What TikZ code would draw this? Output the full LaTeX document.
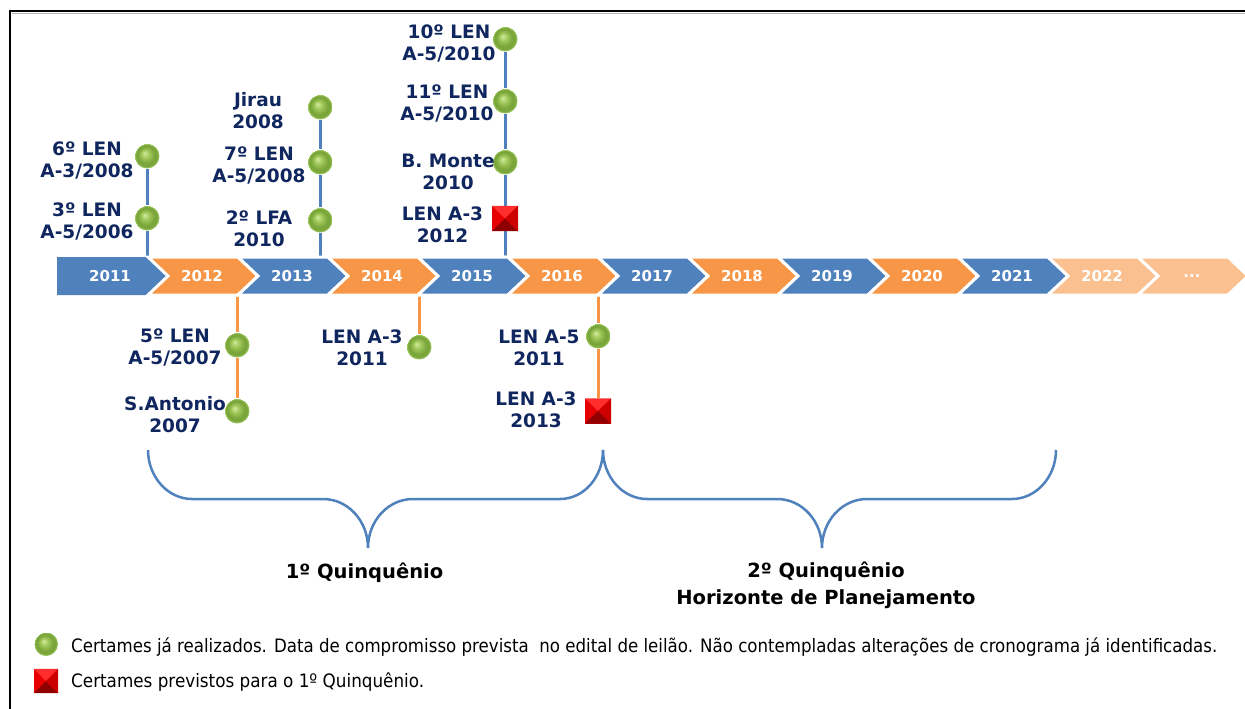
\documentclass[tikz,border=0pt]{standalone}
\usepackage{fontspec}
\setmainfont{DejaVu Sans}
\usepackage{graphicx}
\usetikzlibrary{backgrounds}
\definecolor{cblue}{RGB}{79,129,189}
\definecolor{corange}{RGB}{247,150,70}
\definecolor{clight}{RGB}{250,192,144}
\definecolor{navy}{RGB}{16,38,94}
\definecolor{gHi}{RGB}{210,235,160}
\definecolor{gMid}{RGB}{160,200,90}
\definecolor{gDark}{RGB}{122,165,58}
\definecolor{gRim}{RGB}{165,210,105}
\definecolor{sqred}{RGB}{230,0,0}
\definecolor{sqlight}{RGB}{255,45,45}
\definecolor{sqright}{RGB}{205,0,0}
\definecolor{sqdark}{RGB}{145,0,0}
\pgfdeclareradialshading{greenball}{\pgfpoint{-5bp}{6bp}}{color(0bp)=(gHi); color(8bp)=(gMid); color(17bp)=(gDark); color(21bp)=(gDark); color(25bp)=(gRim)}
\newlength\hfitlen
\newcommand\hfit[2]{\settowidth\hfitlen{#2}\pgfmathsetmacro\hfitfac{#1/\hfitlen}\scalebox{\hfitfac}[1]{#2}}
\newcommand\bevel[1]{%
  \fill[sqdark] (#1.south west) -- (#1.center) -- (#1.south east) -- cycle;
  \fill[sqlight] (#1.north west) -- (#1.center) -- (#1.north east) -- cycle;
  \fill[sqright] (#1.north east) -- (#1.center) -- (#1.south east) -- cycle;}
\newcommand\threedots{...}
\tikzset{
  lab/.style={font=\bfseries\fontsize{18.5}{22}\selectfont, text=navy, align=center, inner sep=0},
  ball/.style={circle, minimum size=25pt, inner sep=0, shading=greenball},
  sq/.style={rectangle, minimum width=26pt, minimum height=25pt, inner sep=0, fill=sqred},
  yearlab/.style={font=\bfseries\fontsize{15}{18}\selectfont, text=white, inner sep=0},
  bstem/.style={draw=cblue, line width=3pt},
  ostem/.style={draw=corange, line width=3pt},
  brace/.style={draw=cblue, line width=2.5pt},
  quin/.style={font=\bfseries\fontsize{19.5}{27}\selectfont, text=black, align=center, inner sep=0},
  legtext/.style={font=\fontsize{18.5}{22}\selectfont, text=black, inner sep=0, anchor=base west},
}
\begin{document}
\begin{tikzpicture}[x=1pt,y=-1pt]
\useasboundingbox (0,0) rectangle (1245,709);
\begin{pgfonlayer}{background}
\fill[white] (0,0) rectangle (1245,709);
\end{pgfonlayer}
% frame
\draw[gray!60, line width=1pt] (12,13.5) -- (1245,13.5);
\draw[black, line width=1.4pt] (10,709) -- (10,11) -- (1245,11);

% timeline chevrons
\foreach \i/\lab/\col/\nm in {0/2011/cblue/y2011, 1/2012/corange/y2012, 2/2013/cblue/y2013, 3/2014/corange/y2014, 4/2015/cblue/y2015, 5/2016/corange/y2016, 6/2017/cblue/y2017, 7/2018/corange/y2018, 8/2019/cblue/y2019, 9/2020/corange/y2020, 10/2021/cblue/y2021, 11/2022/clight/y2022, 12/\threedots/clight/ydots}{
  \pgfmathsetmacro\T{168+90*\i}
  \ifnum\i=0
    \fill[\col] (57,257) -- (\T-20,257) -- (\T,276) -- (\T-20,295) -- (57,295) -- cycle;
    \node[yearlab] (\nm) at (110,276) {\lab};
  \else
    \filldraw[fill=\col, draw=white, line width=3pt, line join=miter] (\T-110,257) -- (\T-20,257) -- (\T,276) -- (\T-20,295) -- (\T-110,295) -- (\T-90,276) -- cycle;
    \node[yearlab] (\nm) at (\T-56,276) {\lab};
  \fi
}

% stem end points on the timeline
\coordinate (s11) at (147,258);
\coordinate (s13) at (320,258);
\coordinate (s15) at (505,258);
\coordinate (s12) at (237,294);
\coordinate (s14) at (419,294);
\coordinate (s16) at (598,294);

% upper events
\node[ball] (b6) at (147,156) {};
\node[ball] (b3) at (147,218) {};
\node[lab] (l6) at (87,160) {6º LEN\\A-3/2008};
\node[lab] (l3) at (87,221) {3º LEN\\A-5/2006};

\node[ball] (bJ) at (320,107) {};
\node[ball] (b7) at (320,162) {};
\node[ball] (bF) at (320,220) {};
\node[lab] (lJ) at (258,111) {Jirau\\2008};
\node[lab] (l7) at (259,165) {7º LEN\\A-5/2008};
\node[lab] (lF) at (259,228.5) {2º LFA\\2010};

\node[ball] (b10) at (505,39) {};
\node[ball] (b11) at (505,101) {};
\node[ball] (bBM) at (505,162) {};
\node[sq] (r12) at (505,218.5) {};
\bevel{r12}
\node[lab] (l10) at (449,43) {10º LEN\\A-5/2010};
\node[lab] (l11) at (447,103.5) {11º LEN\\A-5/2010};
\node[lab] (lBM) at (448,172) {B. Monte\\2010};
\node[lab] (lr12) at (442.5,225) {LEN A-3\\2012};

% lower events
\node[ball] (b5) at (237,345) {};
\node[ball] (bSA) at (237,411) {};
\node[lab] (l5) at (175,347) {5º LEN\\A-5/2007};
\node[lab] (lSA) at (175,415) {S.Antonio\\2007};

\node[ball] (bL11) at (419,347) {};
\node[lab] (lL11) at (362,347.5) {LEN A-3\\2011};

\node[ball] (bL5) at (598,336) {};
\node[sq] (r13) at (598,411) {};
\bevel{r13}
\node[lab] (lL5) at (539,347.5) {LEN A-5\\2011};
\node[lab] (lr13) at (536,410) {LEN A-3\\2013};

% stems behind
\begin{pgfonlayer}{background}
\draw[bstem] (b6) -- (b3) -- (s11);
\draw[bstem] (bJ) -- (b7) -- (bF) -- (s13);
\draw[bstem] (b10) -- (b11) -- (bBM) -- (r12) -- (s15);
\draw[ostem] (s12) -- (b5) -- (bSA);
\draw[ostem] (s14) -- (bL11);
\draw[ostem] (s16) -- (bL5) -- (r13);
\end{pgfonlayer}

% braces
\draw[brace] (148,450) .. controls (148,477) and (168,499) .. (192,499) -- (323,499)
  .. controls (348,499) and (368,521) .. (368,548)
  .. controls (368,521) and (388,499) .. (413,499) -- (560,499)
  .. controls (584,499) and (603,477) .. (603,450);
\draw[brace] (603,450) .. controls (603,477) and (623,499) .. (647,499) -- (777,499)
  .. controls (802,499) and (822,521) .. (822,548)
  .. controls (822,521) and (842,499) .. (867,499) -- (1012,499)
  .. controls (1036,499) and (1056,477) .. (1056,450);

\node[quin, anchor=base] (q1) at (364.5,578) {1º Quinquênio};
\node[quin] (q2) at (826,585) {2º Quinquênio\\Horizonte de Planejamento};

% legend
\node[ball, minimum size=24pt] (lgb) at (46,644) {};
\node[sq, minimum width=24pt, minimum height=24pt] (lgs) at (46,681) {};
\bevel{lgs}
\node[legtext] (lt1) at (71,652) {\hfit{1146}{Certames já realizados. Data de compromisso prevista\ \ no edital de leilão. Não contempladas alterações de cronograma já identificadas.}};
\node[legtext] (lt2) at (71,687) {\hfit{353}{Certames previstos para o 1º Quinquênio.}};
\end{tikzpicture}
\end{document}
